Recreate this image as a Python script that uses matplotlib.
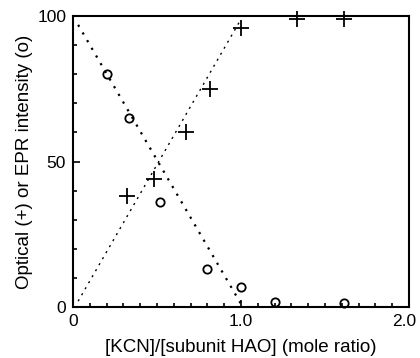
import matplotlib
matplotlib.use("Agg")
import matplotlib.pyplot as plt
import matplotlib.transforms as mtransforms
from matplotlib.ticker import MultipleLocator, FixedLocator, FixedFormatter

plt.rcParams['font.family'] = ['Liberation Sans', 'DejaVu Sans']

# EPR intensity (open circles)
epr_x = [0.2, 0.33, 0.52, 0.8, 1.0, 1.2, 1.61]
epr_y = [80, 65, 36, 13, 7, 1.7, 1.3]
# Optical (plus markers)
opt_x = [0.32, 0.48, 0.67, 0.815, 1.0, 1.33, 1.61]
opt_y = [38, 44, 60, 75, 96, 99, 99]
# Theoretical dotted lines
epr_line_x = [0.03, 1.0]
epr_line_y = [97, 1]
opt_line_x = [0.03, 1.0]
opt_line_y = [2, 99]

xticks = [0, 1.0, 2.0]
xticklabels = ["0", "1.0", "2.0"]
yticks = [0, 50, 100]
yticklabels = ["0", "50", "100"]

fig = plt.figure(figsize=(4.2, 3.58), dpi=100)
ax = fig.add_axes([0.174, 0.1425, 0.8, 0.8125])

ax.plot(epr_line_x, epr_line_y, linestyle=(0, (1, 3)), color='black', lw=1.6)
ax.plot(opt_line_x, opt_line_y, linestyle=(0, (1.5, 3.5)), color='black', lw=1.0)
ax.plot(epr_x, epr_y, 'o', mfc='none', mec='black', ms=6, mew=1.3, clip_on=False)
ax.plot(opt_x, opt_y, '+', color='black', ms=11, mew=1.3, clip_on=False)

ax.set_xlim(0, 2.0)
ax.set_ylim(0, 100)
ax.xaxis.set_major_locator(FixedLocator(xticks))
ax.xaxis.set_major_formatter(FixedFormatter(xticklabels))
ax.yaxis.set_major_locator(FixedLocator(yticks))
ax.yaxis.set_major_formatter(FixedFormatter(yticklabels))
ax.xaxis.set_minor_locator(MultipleLocator(0.1))
ax.yaxis.set_minor_locator(MultipleLocator(10))
ax.tick_params(which='both', direction='in', top=False, right=False,
               labelsize=12.5, width=1.2)
ax.tick_params(which='major', length=5, pad=5)
ax.tick_params(which='minor', length=3)
for s in ax.spines.values():
    s.set_linewidth(1.5)

ax.set_xlabel("[KCN]/[subunit HAO] (mole ratio)", fontsize=13.5, labelpad=7)
ax.set_ylabel("Optical (+) or EPR intensity (o)", fontsize=13.5, labelpad=3)

fig.canvas.draw()
lbl = ax.get_xticklabels()[-1]
lbl.set_transform(lbl.get_transform() +
                  mtransforms.ScaledTranslation(-5 / 100, 0, fig.dpi_scale_trans))

fig.savefig("out.png", dpi=100)
